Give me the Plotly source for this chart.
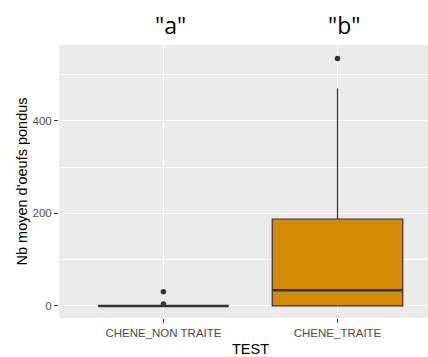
import plotly.graph_objects as go

# Summary statistics per treatment group
categories = ["CHENE_NON TRAITE", "CHENE_TRAITE"]
q1 = [0, 0]
median = [0, 34]
q3 = [0, 188]
lower_whisker = [0, 0]
upper_whisker = [0, 470]
outliers = [[31, 4], [535]]
letters = ['"a"', '"b"']

fill_colors = ["#D38A06", "#D38A06"]
box_width = 0.75
positions = [i + 1 for i in range(len(categories))]

fig = go.Figure()

for i, cat in enumerate(categories):
    x = positions[i]
    fig.add_trace(go.Box(
        x=[x], q1=[q1[i]], median=[median[i]], q3=[q3[i]],
        lowerfence=[lower_whisker[i]], upperfence=[upper_whisker[i]],
        width=box_width, whiskerwidth=0,
        fillcolor=fill_colors[i],
        line=dict(color="#333333", width=1.2),
        boxpoints=False, showlegend=False, name=cat,
    ))
    # thicker median bar
    fig.add_trace(go.Scatter(
        x=[x - box_width / 2, x + box_width / 2], y=[median[i], median[i]],
        mode="lines", line=dict(color="#333333", width=2.6),
        showlegend=False, hoverinfo="skip",
    ))
    # outlying points
    fig.add_trace(go.Scatter(
        x=[x] * len(outliers[i]), y=outliers[i],
        mode="markers", marker=dict(color="#333333", size=5.5),
        showlegend=False,
    ))

# significance letters above each group
for i, lab in enumerate(letters):
    fig.add_annotation(
        x=positions[i], xref="x", y=1.0, yref="paper", yanchor="bottom", yshift=2,
        xshift=7,
        text=lab, showarrow=False,
        font=dict(family="Open Sans", size=23, color="black"),
    )

# x axis title centred on the full discrete range
fig.add_annotation(
    x=1.5, xref="x", y=0, yref="paper", yanchor="top", yshift=-21,
    text="TEST", showarrow=False,
    font=dict(family="Liberation Sans", size=14.5, color="black"),
)

fig.update_layout(
    width=428, height=357,
    margin=dict(l=59, r=0, t=45, b=39),
    paper_bgcolor="white",
    plot_bgcolor="#EBEBEB",
    font=dict(family="Liberation Sans"),
    xaxis=dict(
        range=[0.4, 2.52],
        tickvals=positions, ticktext=categories,
        showgrid=True, gridcolor="white", gridwidth=1.1,
        zeroline=False,
        ticks="outside", ticklen=4, tickcolor="#333333", tickwidth=1,
        tickfont=dict(size=11.5, color="#4D4D4D"),
    ),
    yaxis=dict(
        range=[-26, 564],
        tickvals=[0, 200, 400],
        showgrid=True, gridcolor="white", gridwidth=1.1,
        minor=dict(tickvals=[100, 300, 500], showgrid=True, gridcolor="white", gridwidth=0.6),
        zeroline=False,
        ticks="outside", ticklen=4, tickcolor="#333333", tickwidth=1,
        tickfont=dict(size=11.5, color="#4D4D4D"),
        title=dict(text="Nb moyen d'oeufs pondus", font=dict(size=14.5, color="black"), standoff=1),
    ),
)

fig.write_html("out.html")
